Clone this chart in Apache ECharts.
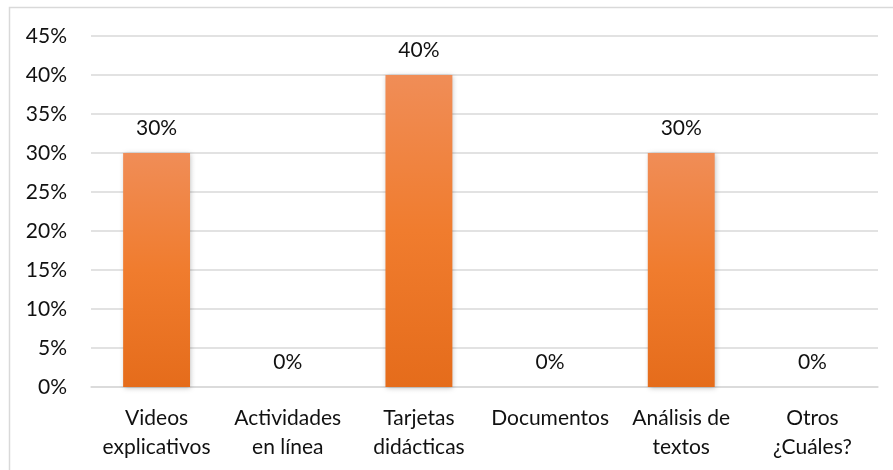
<!DOCTYPE html>
<html>
<head>
<meta charset="utf-8">
<script src="https://cdn.jsdelivr.net/npm/echarts@6/dist/echarts.min.js"></script>
<style>
html,body{margin:0;padding:0;background:#fff;}
#c{width:893px;height:470px;}
</style>
</head>
<body>
<div id="c"></div>
<script>
const categories = ['Videos\nexplicativos', 'Actividades\nen línea', 'Tarjetas\ndidácticas', 'Documentos', 'Análisis de\ntextos', 'Otros\n¿Cuáles?'];
const values = [30, 0, 40, 0, 30, 0];
const yTicks = [0, 5, 10, 15, 20, 25, 30, 35, 40, 45];

const FONT = 'Lato';
const TXT = '#111111';
const chart = echarts.init(document.getElementById('c'), null, {renderer: 'canvas'});
chart.setOption({
  backgroundColor: '#ffffff',
  animation: false,
  graphic: [{
    type: 'rect',
    shape: {x: 9.5, y: 7.5, width: 900, height: 480},
    style: {fill: 'none', stroke: '#d9d9d9', lineWidth: 1.5},
    silent: true
  }],
  grid: {left: 91, right: 15, top: 36, bottom: 83, containLabel: false},
  xAxis: {
    type: 'category',
    data: categories,
    axisLine: {show: true, lineStyle: {color: '#d9d9d9', width: 1.5}},
    axisTick: {show: false},
    axisLabel: {
      color: TXT, fontFamily: FONT, fontSize: 21, lineHeight: 29,
      margin: 17, interval: 0
    }
  },
  yAxis: {
    type: 'value',
    min: yTicks[0], max: yTicks[yTicks.length - 1], interval: 5,
    axisLine: {show: false},
    axisTick: {show: false},
    splitLine: {lineStyle: {color: '#d9d9d9', width: 1.5}},
    axisLabel: {
      color: TXT, fontFamily: FONT, fontSize: 21, margin: 24,
      formatter: v => v + '%'
    }
  },
  series: [{
    type: 'bar',
    data: values,
    barWidth: '51%',
    itemStyle: {
      color: new echarts.graphic.LinearGradient(0, 0, 0, 1, [
        {offset: 0, color: '#F08D57'},
        {offset: 0.5, color: '#F07C2E'},
        {offset: 1, color: '#E56C1B'}
      ]),
      shadowBlur: 5,
      shadowColor: 'rgba(0,0,0,0.25)',
      shadowOffsetX: 1,
      shadowOffsetY: 1
    },
    label: {
      show: true, position: 'top', distance: 14,
      color: TXT, fontFamily: FONT, fontSize: 21,
      formatter: p => p.value + '%'
    }
  }]
});
</script>
</body>
</html>
